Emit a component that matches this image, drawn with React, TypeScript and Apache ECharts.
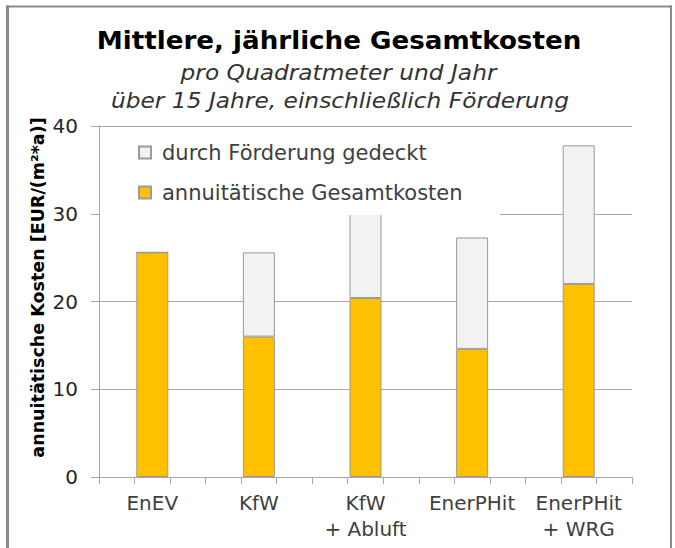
import React, { useEffect, useRef } from "react";
import * as echarts from "echarts";

const categories = ["EnEV", "KfW", "KfW\n+ Abluft", "EnerPHit", "EnerPHit\n+ WRG"];
const annuitaetisch = [25.6, 16.0, 20.4, 14.6, 22.0];
const foerderung = [0, 9.6, 12.0, 12.7, 15.8];
const yTicks = { min: 0, max: 40, interval: 10 };
const tickSlots = ["", "", "", "", "", "", "", "", "", "", "", "", "", "", ""];

const titleText = "Mittlere, jährliche Gesamtkosten";
const sub1 = "pro Quadratmeter und Jahr";
const sub2 = "über 15 Jahre, einschließlich Förderung";
const yName = "annuitätische Kosten [EUR/(m²*a)]";
const nameFoerd = "durch Förderung gedeckt";
const nameAnn = "annuitätische Gesamtkosten";

const FONT = "DejaVu Sans";

export default function App() {
  const ref = useRef<HTMLDivElement>(null);
  useEffect(() => {
    document.body.style.margin = "0";
    const chart = echarts.init(ref.current!, null, { renderer: "svg" });
    const gridLine = "#A6A6A6";
    const border = "#9A9A9A";
    chart.setOption({
      animation: false,
      backgroundColor: "#fff",
      grid: { left: 99, right: 43, top: 126, bottom: 71, containLabel: false },
      legend: {
        data: [nameFoerd, nameAnn],
        orient: "vertical",
        left: 138,
        top: 140.5,
        padding: 0,
        itemGap: 16,
        itemWidth: 12,
        itemHeight: 12,
        icon: "rect",
        textStyle: {
          fontFamily: FONT,
          fontSize: 21,
          color: "#404040",
          lineHeight: 24,
          padding: [0, 0, 0, 6],
        },
      },
      xAxis: [
        {
          type: "category",
          data: categories,
          axisLine: { lineStyle: { color: gridLine, width: 1 } },
          axisTick: { show: false },
          axisLabel: {
            fontFamily: FONT,
            fontSize: 20,
            color: "#404040",
            lineHeight: 26,
            margin: 13,
            interval: 0,
          },
        },
        {
          type: "category",
          data: tickSlots,
          position: "bottom",
          axisLine: { show: false },
          axisTick: { show: true, interval: 0, length: 7, lineStyle: { color: gridLine } },
          axisLabel: { show: false },
          splitLine: { show: false },
        },
      ],
      yAxis: {
        type: "value",
        min: yTicks.min,
        max: yTicks.max,
        interval: yTicks.interval,
        axisLine: { show: true, lineStyle: { color: gridLine } },
        axisTick: { show: true, length: 8, lineStyle: { color: gridLine } },
        splitLine: { show: true, lineStyle: { color: gridLine, width: 1 } },
        axisLabel: { fontFamily: FONT, fontSize: 20, color: "#262626", margin: 21 },
      },
      series: [
        {
          name: nameAnn,
          type: "bar",
          stack: "k",
          data: annuitaetisch,
          barWidth: 32,
          itemStyle: { color: "#FFC000", borderColor: border, borderWidth: 1 },
        },
        {
          name: nameFoerd,
          type: "bar",
          stack: "k",
          data: foerderung,
          barWidth: 32,
          itemStyle: { color: "#F2F2F2", borderColor: border, borderWidth: 1 },
        },
      ],
      graphic: [
        {
          type: "rect",
          z: 3,
          shape: { x: 100, y: 128, width: 400, height: 87 },
          style: { fill: "#fff" },
        },
        {
          type: "text",
          x: 339,
          y: 41,
          scaleX: 1.09,
          style: {
            text: titleText,
            fontFamily: FONT,
            fontSize: 24,
            fontWeight: "bold",
            fill: "#000",
            textAlign: "center",
            textVerticalAlign: "middle",
          },
        },
        {
          type: "text",
          x: 338.5,
          y: 72,
          scaleX: 1.06,
          style: {
            text: sub1,
            fontFamily: FONT,
            fontSize: 22,
            fontStyle: "italic",
            fill: "#333",
            textAlign: "center",
            textVerticalAlign: "middle",
          },
        },
        {
          type: "text",
          x: 340,
          y: 100,
          scaleX: 1.06,
          style: {
            text: sub2,
            fontFamily: FONT,
            fontSize: 22,
            fontStyle: "italic",
            fill: "#333",
            textAlign: "center",
            textVerticalAlign: "middle",
          },
        },
        {
          type: "text",
          x: 38,
          y: 287.5,
          rotation: Math.PI / 2,
          style: {
            text: yName,
            fontFamily: FONT,
            fontSize: 17.5,
            fontWeight: "bold",
            fill: "#000",
            textAlign: "center",
            textVerticalAlign: "middle",
          },
        },
        {
          type: "line",
          z: 10,
          shape: { x1: 6, y1: 6.5, x2: 672, y2: 6.5 },
          style: { stroke: "#8A8A8A", lineWidth: 2 },
        },
        {
          type: "line",
          z: 10,
          shape: { x1: 7.5, y1: 5.5, x2: 7.5, y2: 548 },
          style: { stroke: "#8A8A8A", lineWidth: 3 },
        },
        {
          type: "line",
          z: 10,
          shape: { x1: 671, y1: 5.5, x2: 671, y2: 548 },
          style: { stroke: "#8A8A8A", lineWidth: 2 },
        },
      ],
    });
    return () => chart.dispose();
  }, []);
  return <div ref={ref} style={{ width: 675, height: 548 }} />;
}
